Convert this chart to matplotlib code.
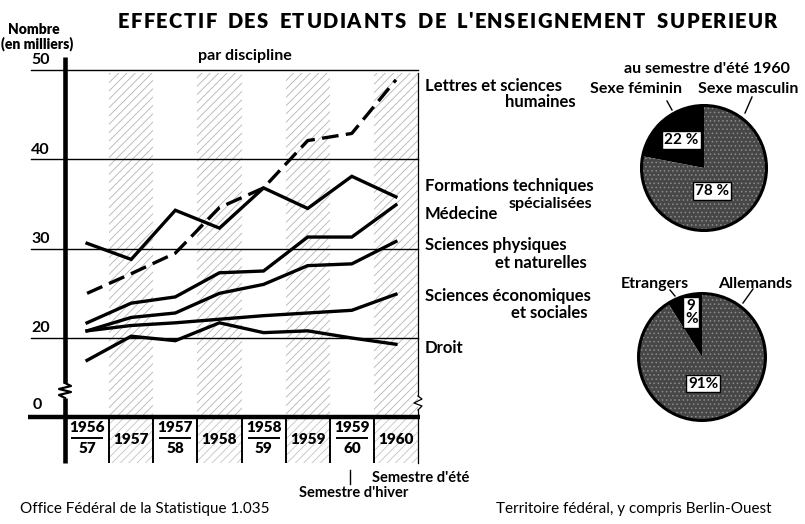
import matplotlib
matplotlib.use("Agg")
import matplotlib.pyplot as plt
from matplotlib.textpath import TextPath
from matplotlib.font_manager import FontProperties
import numpy as np

# ---------------- data ----------------
periods = ["1956/57", "1957", "1957/58", "1958", "1958/59", "1959", "1959/60", "1960"]
lettres = [25.0, 27.2, 29.5, 34.6, 36.8, 42.1, 42.9, 48.9]
formations = [30.6, 28.8, 34.3, 32.3, 36.8, 34.5, 38.1, 35.8]
medecine = [21.7, 23.9, 24.6, 27.3, 27.5, 31.3, 31.3, 34.9]
sci_phys = [20.8, 22.3, 22.8, 25.0, 26.0, 28.1, 28.3, 30.8]
sci_eco = [20.8, 21.4, 21.7, 22.1, 22.5, 22.8, 23.1, 24.9]
droit = [17.5, 20.2, 19.7, 21.7, 20.6, 20.8, 20.0, 19.3]
yticks = [20, 30, 40, 50]
sexe_labels = ["Sexe féminin", "Sexe masculin"]
sexe_pct = [22, 78]
nat_labels = ["Etrangers", "Allemands"]
nat_pct = [9, 91]

FONT = "Lato"
plt.rcParams["font.family"] = [FONT, "DejaVu Sans"]
plt.rcParams["font.weight"] = "bold"
plt.rcParams["hatch.linewidth"] = 0.6

W, H = 805, 524
fig = plt.figure(figsize=(W / 100, H / 100), dpi=100)
fig.patch.set_facecolor("white")


def fr(x0, y0, x1, y1):
    return [x0 / W, 1 - y1 / H, (x1 - x0) / W, (y1 - y0) / H]


# overlay in pixel coords for decorations
ov = fig.add_axes([0, 0, 1, 1], zorder=5)
ov.set_xlim(0, W)
ov.set_ylim(H, 0)
ov.axis("off")
ov.patch.set_alpha(0)

# ---------------- main chart ----------------
X0, X1, YT, YB = 65, 418, 70, 417
ax = fig.add_axes(fr(X0, YT, X1, YB), zorder=2)
ppu = (338 - 70) / 30.0
ybot = 20 - (YB - 338) / ppu
ax.set_ylim(ybot, 50)
ax.set_xlim(0, len(periods))
ax.axis("off")
ax.patch.set_alpha(0)

xs = np.arange(len(periods)) + 0.5

# table axes below
tab = fig.add_axes(fr(X0, YB, X1, 463), zorder=1)
tab.set_xlim(0, len(periods))
tab.set_ylim(0, 1)
tab.axis("off")

# hatching of summer semester columns
for i, p in enumerate(periods):
    if "/" not in p:
        ax.axvspan(i, i + 1, ymin=0, ymax=0.99, facecolor="none", edgecolor="#b4b4b4",
                   hatch="////", linewidth=0, zorder=0)
        tab.axvspan(i, i + 1, facecolor="none", edgecolor="#c4c4c4", hatch="////",
                    linewidth=0, zorder=0)

# gridlines and tick labels
yt = ax.get_yaxis_transform()
for v in yticks:
    ax.plot([-0.097, 1.0], [v, v], transform=yt, color="black", lw=1.0,
            clip_on=False, zorder=1)
    ax.text(-0.043, v + 0.3, str(v), transform=yt, ha="right", va="bottom",
            fontsize=11.5, fontweight="bold")
ax.text(-0.078, ybot + 1.35, "0", transform=yt, ha="center", va="center",
        fontsize=11.5, fontweight="bold")

# series
series = [lettres, formations, medecine, sci_phys, sci_eco, droit]
for k, s in enumerate(series):
    if k == 0:
        ax.plot(xs, s, color="black", lw=2.4, dashes=(5.0, 2.2), zorder=3,
                solid_joinstyle="miter")
    else:
        ax.plot(xs, s, color="black", lw=2.4, zorder=3, solid_joinstyle="miter")

# table labels
for i, p in enumerate(periods):
    if "/" in p:
        a, b = p.split("/")
        tab.text(i + 0.5, 0.77, a, ha="center", va="center", fontsize=11,
                 fontweight="heavy")
        tab.plot([i + 0.16, i + 0.84], [0.55, 0.55], color="black", lw=1.4)
        tab.text(i + 0.5, 0.32, b, ha="center", va="center", fontsize=11,
                 fontweight="heavy")
    else:
        tab.text(i + 0.5, 0.52, p, ha="center", va="center", fontsize=11,
                 fontweight="heavy")
    if i > 0:
        tab.plot([i, i], [0, 1], color="black", lw=1.4)

# axes lines (pixel overlay)
ov.plot([28, 420], [417, 417], color="black", lw=3.2, solid_capstyle="butt")
ov.plot([X0, X0], [57, 383], color="black", lw=3.3, solid_capstyle="butt")
ov.plot([X0, X0], [398, 463], color="black", lw=3.3, solid_capstyle="butt")
ov.plot([X0, 71, 59, 71, 59, X0], [383, 386, 389, 392, 395, 398], color="black", lw=1.6)
ov.plot([X1, X1], [73, 396], color="black", lw=0.9)
ov.plot([X1, X1], [410, 463], color="black", lw=0.9)
ov.plot([X1, 422, 414, 422, X1], [396, 399, 403, 406, 410], color="black", lw=0.9)

# series labels
lab_kw = dict(fontsize=12, fontweight="bold")
ov.text(425, 86, "Lettres et sciences", ha="left", va="center", **lab_kw)
ov.text(576, 102, "humaines", ha="right", va="center", **lab_kw)
ov.text(425, 186, "Formations techniques", ha="left", va="center", **lab_kw)
ov.text(592, 204, "spécialisées", ha="right", va="center", fontsize=11.5, fontweight="bold")
ov.text(425, 214, "Médecine", ha="left", va="center", **lab_kw)
ov.text(425, 245, "Sciences physiques", ha="left", va="center", **lab_kw)
ov.text(587, 263, "et naturelles", ha="right", va="center", **lab_kw)
ov.text(425, 296, "Sciences économiques", ha="left", va="center", **lab_kw)
ov.text(587, 313, "et sociales", ha="right", va="center", **lab_kw)
ov.text(425, 348, "Droit", ha="left", va="center", **lab_kw)

# headings
ov.text(34, 30, "Nombre", ha="center", va="center", fontsize=10, fontweight="heavy")
ov.text(1, 44, "(en milliers)", ha="left", va="center", fontsize=10, fontweight="heavy")
ov.text(245, 56, "par discipline", ha="center", va="center", fontsize=11.5, fontweight="bold")
ov.text(707, 69, "au semestre d'été 1960", ha="center", va="center", fontsize=11.5,
        fontweight="bold")

# title with letter spacing
title = "EFFECTIF DES ETUDIANTS DE L'ENSEIGNEMENT SUPERIEUR"
tfs = 14.5
fp = FontProperties(family=FONT, weight="heavy", size=tfs)
bar_w = TextPath((0, 0), "|", prop=fp).get_extents().width
widths = []
for ch in title:
    if ch == " ":
        widths.append(TextPath((0, 0), "n", prop=fp).get_extents().width * 0.9)
    else:
        widths.append(TextPath((0, 0), ch + "|", prop=fp).get_extents().width - bar_w)
widths = np.array(widths) * 100 / 72.0
target_w = 777 - 118
track = (target_w - widths.sum()) / (len(title) - 1)
xpos = 118.0
for ch, w in zip(title, widths):
    if ch != " ":
        ov.text(xpos, 21, ch, ha="left", va="center", fontsize=tfs, fontweight="heavy")
    xpos += w + track

# bottom texts
ov.text(20, 509, "Office Fédéral de la Statistique 1.035", ha="left", va="center",
        fontsize=11, fontweight="normal")
ov.text(496, 509, "Territoire fédéral, y compris Berlin-Ouest", ha="left", va="center",
        fontsize=11, fontweight="normal")
ov.text(372, 478, "Semestre d'été", ha="left", va="center", fontsize=10.5, fontweight="bold")
ov.text(299, 493, "Semestre d'hiver", ha="left", va="center", fontsize=10.5, fontweight="bold")
ov.plot([350, 350], [470, 484], color="black", lw=1.0)

# ---------------- pies ----------------
def draw_pie(cx, cy, r, pct, labels, boxes, boxtexts, label_pos, leaders):
    pax = fig.add_axes(fr(cx - r, cy - r, cx + r, cy + r), zorder=3)
    wedges, _ = pax.pie(pct, startangle=90, counterclock=True, radius=1.0,
                        colors=["black", "#474747"],
                        wedgeprops=dict(linewidth=0))
    wedges[1].set_hatch("....")
    wedges[1].set_edgecolor("#8c8c8c")
    circ = plt.Circle((0, 0), 1.0, fill=False, ec="black", lw=2.2)
    pax.add_patch(circ)
    pax.set_xlim(-1.04, 1.04)
    pax.set_ylim(-1.04, 1.04)
    pax.set_aspect("equal")
    pax.axis("off")
    for (bx, by), t in zip(boxes, boxtexts):
        pax.text(bx, by, t, ha="center", va="center", fontsize=11, fontweight="bold",
                 linespacing=0.95,
                 bbox=dict(boxstyle="square,pad=0.12", fc="white", ec="black", lw=1.0))
    for (lx, ly, ha), t in zip(label_pos, labels):
        ov.text(lx, ly, t, ha=ha, va="center", fontsize=11.5, fontweight="bold")
    for (x0, y0, x1, y1) in leaders:
        ov.plot([x0, x1], [y0, y1], color="black", lw=1.0)


draw_pie(704, 168, 65, sexe_pct, sexe_labels,
         [(-0.36, 0.45), (0.13, -0.37)], [f"{sexe_pct[0]} %", f"{sexe_pct[1]} %"],
         [(590, 89, "left"), (698, 89, "left")],
         [(667, 101, 672, 110), (752, 97, 745, 113)])

draw_pie(702, 357, 66, nat_pct, nat_labels,
         [(-0.17, 0.70), (0.02, -0.42)], [f"{nat_pct[0]}\n%", f"{nat_pct[1]}%"],
         [(621, 284, "left"), (718, 284, "left")],
         [(670, 290, 675, 296), (753, 289, 743, 303)])

fig.savefig("out.png", dpi=100, facecolor="white")
